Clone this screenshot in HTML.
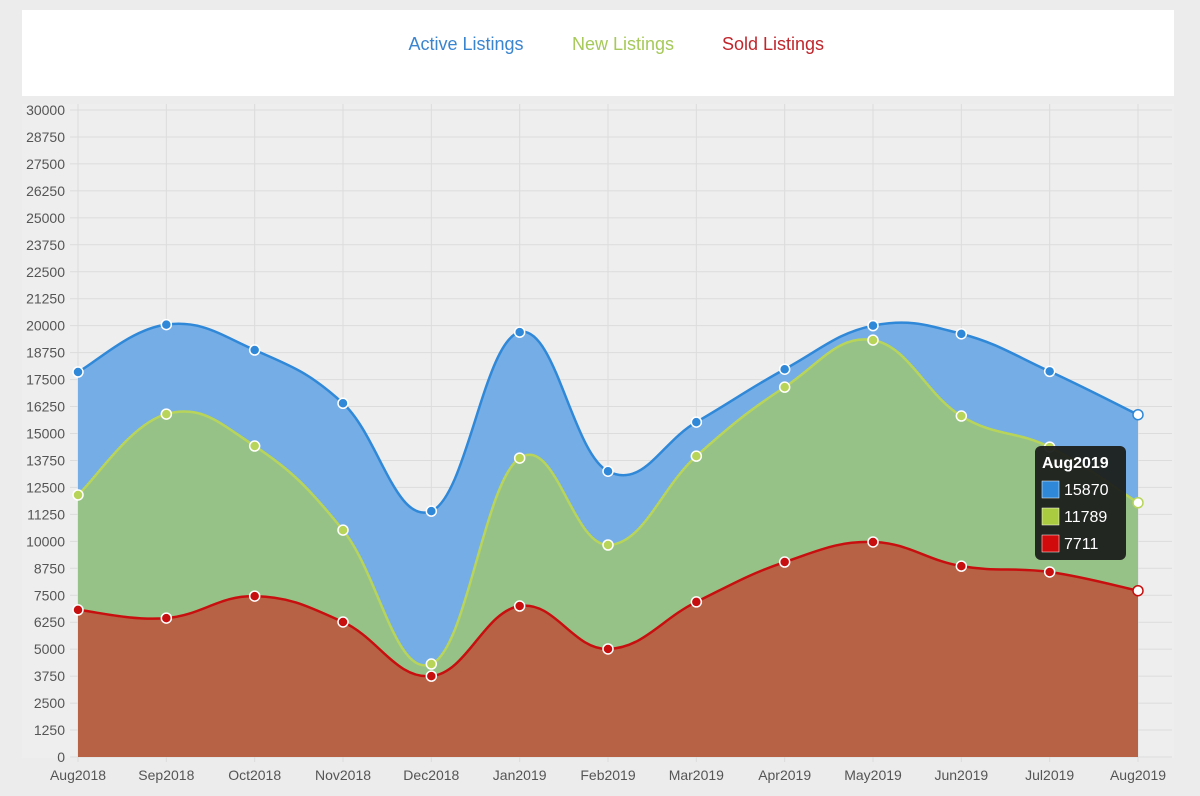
<!DOCTYPE html>
<html><head><meta charset="utf-8"><style>
body{margin:0;background:#ececec;font-family:"Liberation Sans",sans-serif;}
svg{display:block}
</style></head><body>
<svg id="c" width="1200" height="796">
<rect x="22" y="10" width="1152" height="86" fill="#fff"/>
<g font-size="18">
<text x="466" y="50" text-anchor="middle" fill="#3a85cf">Active Listings</text>
<text x="623" y="50" text-anchor="middle" fill="#a6c95a">New Listings</text>
<text x="773" y="50" text-anchor="middle" fill="#c0262c">Sold Listings</text>
</g>
<g id="grid"></g><g id="areas"></g><g id="axes"></g><g id="pts"></g>
<g>
<rect x="1035" y="446" width="91" height="114" rx="6" fill="#1b1f1b" opacity="0.95"/>
<text x="1042" y="468" fill="#fff" font-weight="bold" font-size="16">Aug2019</text>
<rect x="1042" y="481" width="17" height="17" fill="#2f88d8" stroke="#fff" stroke-width="0.5"/>
<text x="1064" y="495" fill="#fff" font-size="16">15870</text>
<rect x="1042" y="508" width="17" height="17" fill="#aacb3f" stroke="#fff" stroke-width="0.5"/>
<text x="1064" y="522" fill="#fff" font-size="16">11789</text>
<rect x="1042" y="535" width="17" height="17" fill="#d10b0b" stroke="#fff" stroke-width="0.5"/>
<text x="1064" y="549" fill="#fff" font-size="16">7711</text>
</g>
</svg>
<script>
const categories=["Aug2018","Sep2018","Oct2018","Nov2018","Dec2018","Jan2019","Feb2019","Mar2019","Apr2019","May2019","Jun2019","Jul2019","Aug2019"];
const activeValues=[17850,20050,18870,16400,11400,19700,13250,15530,17980,20000,19620,17880,15870];
const newValues=[12150,15900,14420,10520,4310,13860,9830,13950,17150,19330,15810,14370,11789];
const soldValues=[6820,6440,7460,6260,3750,7000,5010,7190,9040,9970,8850,8580,7711];
const yTicks=[0,1250,2500,3750,5000,6250,7500,8750,10000,11250,12500,13750,15000,16250,17500,18750,20000,21250,22500,23750,25000,26250,27500,28750,30000];
const X0=78,X1=1138,Y0=757,Y1=110,YMAX=30000;
const xs=i=>X0+(X1-X0)*i/(categories.length-1);
const ys=v=>Y0-(Y0-Y1)*v/YMAX;
const NS="http://www.w3.org/2000/svg";
function mk(t,a,p){const e=document.createElementNS(NS,t);for(const k in a)e.setAttribute(k,a[k]);p.appendChild(e);return e;}
const grid=document.getElementById('grid'),axes=document.getElementById('axes'),areas=document.getElementById('areas'),pts=document.getElementById('pts');
mk('rect',{x:22,y:104,width:1152,height:654,fill:'#eeeeee'},grid);
yTicks.forEach(v=>{const l=mk('line',{x1:70,x2:1172,y1:ys(v),y2:ys(v),stroke:'#dcdcdc'},grid);


const t=mk('text',{x:65,y:ys(v)+5,'text-anchor':'end','font-size':14,fill:'#555'},axes);t.textContent=v;

});
categories.forEach((c,i)=>{const l=mk('line',{x1:xs(i),x2:xs(i),y1:104,y2:762,stroke:'#dcdcdc'},grid);


const t=mk('text',{x:xs(i),y:780,'text-anchor':'middle','font-size':14,fill:'#555'},axes);t.textContent=c;

});
function curve(vals){const p=vals.map((v,i)=>[xs(i),ys(v)]);let d=`M${p[0][0]},${p[0][1]}`;
for(let i=0;i<p.length-1;i++){const a=p[i-1]||p[i],b=p[i],c=p[i+1],e=p[i+2]||c;const k=0.2;
d+=` C${b[0]+(c[0]-a[0])*k},${b[1]+(c[1]-a[1])*k} ${c[0]-(e[0]-b[0])*k},${c[1]-(e[1]-b[1])*k} ${c[0]},${c[1]}`;}return d;}
function series(vals,fill,stroke,name){const d=curve(vals);
const a=mk('path',{d:d+` L${xs(vals.length-1)},${Y0} L${X0},${Y0} Z`,fill:fill},areas);


const l=mk('path',{d:d,fill:'none',stroke:stroke,'stroke-width':2.5},areas);


vals.forEach((v,i)=>{const last=i===vals.length-1;const c=mk('circle',{cx:xs(i),cy:ys(v),r:5,fill:last?'#fff':stroke,stroke:last?stroke:'#fff','stroke-width':1.5},pts);

});}
series(activeValues,'#75ade6','#2f88d8','active');
series(newValues,'#97c287','#b8d55a','new');
series(soldValues,'#b86245','#c80f0f','sold');
</script>
</body></html>
